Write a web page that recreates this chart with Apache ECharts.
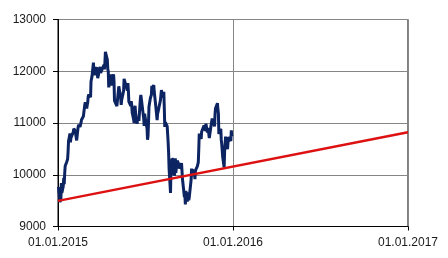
<!DOCTYPE html>
<html>
<head>
<meta charset="utf-8">
<script src="https://cdn.jsdelivr.net/npm/echarts@6/dist/echarts.min.js"></script>
<style>html,body{margin:0;padding:0;background:#fff}#c{width:448px;height:258px}</style>
</head>
<body>
<div id="c"></div>
<script>
var startDate = '2015-01-01';
var xTickLabels = ['01.01.2015', '01.01.2016', '01.01.2017'];
var yTicks = [9000, 10000, 11000, 12000, 13000];
var indexDates = ['2015-01-02','2015-01-05','2015-01-06','2015-01-07','2015-01-08','2015-01-09','2015-01-12','2015-01-13','2015-01-14','2015-01-15','2015-01-16','2015-01-19','2015-01-20','2015-01-21','2015-01-22','2015-01-23','2015-01-26','2015-01-27','2015-01-28','2015-01-29','2015-01-30',
'2015-02-02','2015-02-03','2015-02-04','2015-02-05','2015-02-06','2015-02-09','2015-02-10','2015-02-11','2015-02-12','2015-02-13','2015-02-16','2015-02-17','2015-02-18','2015-02-19','2015-02-20','2015-02-23','2015-02-24','2015-02-25','2015-02-26','2015-02-27',
'2015-03-02','2015-03-03','2015-03-04','2015-03-05','2015-03-06','2015-03-09','2015-03-10','2015-03-11','2015-03-12','2015-03-13','2015-03-16','2015-03-17','2015-03-18','2015-03-19','2015-03-20','2015-03-23','2015-03-24','2015-03-25','2015-03-26','2015-03-27','2015-03-30','2015-03-31',
'2015-04-01','2015-04-02','2015-04-07','2015-04-08','2015-04-09','2015-04-10','2015-04-13','2015-04-14','2015-04-15','2015-04-16','2015-04-17','2015-04-20','2015-04-21','2015-04-22','2015-04-23','2015-04-24','2015-04-27','2015-04-28','2015-04-29','2015-04-30',
'2015-05-04','2015-05-05','2015-05-06','2015-05-07','2015-05-08','2015-05-11','2015-05-12','2015-05-13','2015-05-14','2015-05-15','2015-05-18','2015-05-19','2015-05-20','2015-05-21','2015-05-22','2015-05-26','2015-05-27','2015-05-28','2015-05-29',
'2015-06-01','2015-06-02','2015-06-03','2015-06-04','2015-06-05','2015-06-08','2015-06-09','2015-06-10','2015-06-11','2015-06-12','2015-06-15','2015-06-16','2015-06-17','2015-06-18','2015-06-19','2015-06-22','2015-06-23','2015-06-24','2015-06-25','2015-06-26','2015-06-29','2015-06-30',
'2015-07-01','2015-07-02','2015-07-03','2015-07-06','2015-07-07','2015-07-08','2015-07-09','2015-07-10','2015-07-13','2015-07-14','2015-07-15','2015-07-16','2015-07-17','2015-07-20','2015-07-21','2015-07-22','2015-07-23','2015-07-24','2015-07-27','2015-07-28','2015-07-29','2015-07-30','2015-07-31',
'2015-08-03','2015-08-04','2015-08-05','2015-08-06','2015-08-07','2015-08-10','2015-08-11','2015-08-12','2015-08-13','2015-08-14','2015-08-17','2015-08-18','2015-08-19','2015-08-20','2015-08-21','2015-08-24','2015-08-25','2015-08-26','2015-08-27','2015-08-28','2015-08-31',
'2015-09-01','2015-09-02','2015-09-03','2015-09-04','2015-09-07','2015-09-08','2015-09-09','2015-09-10','2015-09-11','2015-09-14','2015-09-15','2015-09-16','2015-09-17','2015-09-18','2015-09-21','2015-09-22','2015-09-23','2015-09-24','2015-09-25','2015-09-28','2015-09-29','2015-09-30',
'2015-10-01','2015-10-02','2015-10-05','2015-10-06','2015-10-07','2015-10-08','2015-10-09','2015-10-12','2015-10-13','2015-10-14','2015-10-15','2015-10-16','2015-10-19','2015-10-20','2015-10-21','2015-10-22','2015-10-23','2015-10-26','2015-10-27','2015-10-28','2015-10-29','2015-10-30',
'2015-11-02','2015-11-03','2015-11-04','2015-11-05','2015-11-06','2015-11-09','2015-11-10','2015-11-11','2015-11-12','2015-11-13','2015-11-16','2015-11-17','2015-11-18','2015-11-19','2015-11-20','2015-11-23','2015-11-24','2015-11-25','2015-11-26','2015-11-27','2015-11-30',
'2015-12-01','2015-12-02','2015-12-03','2015-12-04','2015-12-07','2015-12-08','2015-12-09','2015-12-10','2015-12-11','2015-12-14','2015-12-15','2015-12-16','2015-12-17','2015-12-18','2015-12-21','2015-12-22','2015-12-23','2015-12-28','2015-12-29','2015-12-30'];
var indexValues = [9764,9473,9469,9518,9838,9648,9781,9941,9818,10032,10168,10242,10257,10299,10435,10649,10798,10628,10711,10738,10694,
10828,10891,10911,10905,10846,10663,10753,10752,10919,10963,10924,10895,11001,11057,11050,11130,11206,11211,11352,11401,
11280,11345,11390,11504,11550,11582,11500,11806,11799,11901,12167,11980,11922,12019,12039,12076,11980,11865,11843,11868,12086,11966,
12002,11967,12123,12035,12166,12374,12338,12227,12039,11998,11689,11850,11897,11939,11723,11811,11939,11810,11432,11454,
11327,11327,11351,11350,11709,11673,11472,11351,11447,11447,11620,11853,11848,11864,11815,11625,11772,11623,11413,
11436,11328,11420,11340,11197,11065,11001,11265,11333,11197,10985,11044,11100,11101,11040,11460,11542,11471,11473,11492,11083,10945,
11180,11099,11058,10891,10676,10747,10997,11316,11485,11516,11540,11717,11673,11734,11604,11520,11512,11347,11056,11174,11211,11257,11308,
11443,11456,11636,11585,11490,11604,11293,10924,11014,10985,10940,10915,10636,10432,10124,9648,10128,9998,10315,10298,10259,
9980,10048,10318,10038,10271,10271,10303,10210,10123,10131,10188,10227,10229,9916,9948,9570,9612,9427,9688,9483,9450,9660,
9509,9553,9814,9902,10119,9970,10096,10124,10032,9915,10064,10104,10164,10147,10238,10491,10794,10801,10692,10832,10801,10850,
10951,10951,10887,10845,10988,10815,10832,10907,10783,10708,10713,10971,10960,11085,11119,11092,10934,11170,11284,11293,11382,
11261,11190,10789,10752,10886,10673,10592,10598,10340,10139,10450,10469,10738,10608,10497,10489,10727,10653,10860,10743];
var trendDates = ['2015-01-01', '2017-01-01'];
var trendValues = [9495, 10820];

var DAY = 86400000;
var t0 = Date.parse(startDate + 'T00:00:00Z');
function dayNum(s) { return (Date.parse(s + 'T00:00:00Z') - t0) / DAY; }
var spanDays = dayNum(trendDates[1]);

var chart = echarts.init(document.getElementById('c'), null, {renderer: 'canvas'});
chart.setOption({
  animation: false,
  backgroundColor: '#fff',
  grid: {left: 58, right: 40, top: 19.5, bottom: 31.5, show: true, borderColor: '#000', borderWidth: 1, backgroundColor: 'transparent'},
  xAxis: {
    type: 'value', min: 0, max: spanDays, interval: spanDays / 2,
    axisLine: {lineStyle: {color: '#000', width: 1}},
    axisTick: {show: true, length: 4, lineStyle: {color: '#000'}},
    splitLine: {show: true, lineStyle: {color: '#868686', width: 1}},
    axisLabel: {color: '#1a1a1a', fontFamily: 'Liberation Sans, Arial', fontSize: 12, margin: 10,
      formatter: function (v) { return xTickLabels[Math.round(v / (spanDays / 2))] || ''; }}
  },
  yAxis: {
    type: 'value', min: yTicks[0], max: yTicks[yTicks.length - 1], interval: 1000,
    axisLine: {show: true, lineStyle: {color: '#000', width: 1}},
    axisTick: {show: true, length: 5, lineStyle: {color: '#000'}},
    splitLine: {show: true, lineStyle: {color: '#868686', width: 1}},
    axisLabel: {color: '#1a1a1a', fontFamily: 'Liberation Sans, Arial', fontSize: 12, margin: 12,
      formatter: function (v) { return String(v); }}
  },
  series: [
    {type: 'line', showSymbol: false, symbol: 'none', z: 3,
     lineStyle: {color: '#0c2461', width: 3},
     data: indexDates.map(function (d, i) { return [dayNum(d), indexValues[i]]; })},
    {type: 'line', showSymbol: false, symbol: 'none', z: 4,
     lineStyle: {color: '#dd1111', width: 2.5},
     data: trendDates.map(function (d, i) { return [dayNum(d), trendValues[i]]; })}
  ]
});
</script>
</body>
</html>
